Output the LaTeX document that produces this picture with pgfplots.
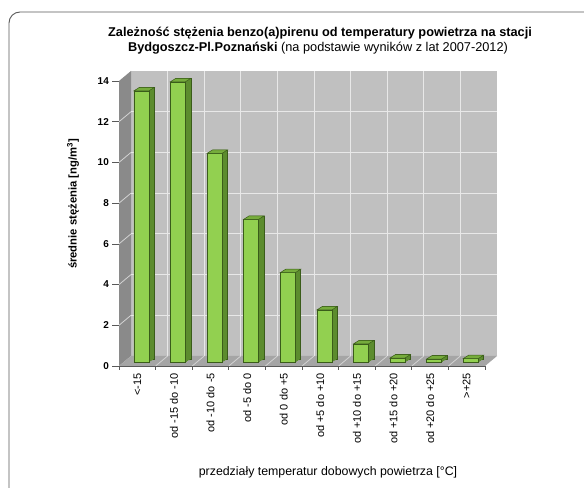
\documentclass[border=0pt]{standalone}
\usepackage{fontspec}
\setmainfont{Liberation Sans}
\usepackage{pgfplots}
\pgfplotsset{compat=1.18}
\usepackage{pgfplotstable}

% colours of the 3-D bars and of the chart walls
\definecolor{barfront}{RGB}{146,208,80}
\definecolor{barside}{RGB}{92,140,46}
\definecolor{bartopc}{RGB}{118,172,60}
\definecolor{baredge}{RGB}{58,92,26}
\definecolor{wallback}{RGB}{192,192,192}
\definecolor{wallside}{RGB}{138,138,138}
\definecolor{wallfloor}{RGB}{165,165,165}
\definecolor{gridc}{RGB}{232,232,232}
\definecolor{framec}{RGB}{90,90,90}

% top face of a 3-D bar, placed at the top centre of the front face
\pgfdeclareplotmark{bartop}{%
  \pgfpathmoveto{\pgfpoint{-7.5bp}{0bp}}%
  \pgfpathlineto{\pgfpoint{7.5bp}{0bp}}%
  \pgfpathlineto{\pgfpoint{13bp}{3.5bp}}%
  \pgfpathlineto{\pgfpoint{-2bp}{3.5bp}}%
  \pgfpathclose
  \pgfusepathqfillstroke}

% mean benzo(a)pyrene concentration per temperature class
\pgfplotstableread{
x y
0 13.35
1 13.80
2 10.28
3 7.04
4 4.42
5 2.59
6 0.92
7 0.23
8 0.18
9 0.20
}\bapdata

\begin{document}
\begin{tikzpicture}
\useasboundingbox (0,0) rectangle (584bp,488bp);
\fill[white] (0,0) rectangle (584bp,488bp);
% outer chart frame
\draw[framec, line width=0.9bp, rounded corners=11bp] (9bp,476bp) rectangle (610bp,-20bp);

% walls of the 3-D plot area
\fill[wallback] (131bp,132bp) rectangle (497bp,417bp);
\fill[wallside] (119bp,122bp) -- (119bp,407bp) -- (131bp,417bp) -- (131bp,132bp) -- cycle;
\fill[wallfloor] (119bp,122bp) -- (485bp,122bp) -- (497bp,132bp) -- (131bp,132bp) -- cycle;
\foreach \k in {1,...,6} {
  \draw[gridc, line width=1bp] (131bp,{132bp+\k*40.714bp}) -- (497bp,{132bp+\k*40.714bp});
  \draw[gridc!80!gray, line width=0.8bp] (119bp,{122bp+\k*40.714bp}) -- (131bp,{132bp+\k*40.714bp});
}
\foreach \i in {1,...,9} {
  \draw[gridc, line width=1bp] ({131bp+\i*36.6bp},132bp) -- ({131bp+\i*36.6bp},417bp);
  \draw[gridc!80!gray, line width=0.8bp] ({119bp+\i*36.6bp},122bp) -- ({131bp+\i*36.6bp},132bp);
}
\draw[gray!70!black, line width=0.6bp] (119bp,122bp) -- (485bp,122bp);
% tick marks on the front edges
\foreach \k in {0,...,7}
  \draw[gray!70!black, line width=0.7bp] (112bp,{122bp+\k*40.714bp}) -- (119bp,{122bp+\k*40.714bp});
\foreach \i in {0,...,10}
  \draw[gray!70!black, line width=0.7bp] ({119bp+\i*36.6bp},122bp) -- ({119bp+\i*36.6bp},118bp);

\begin{axis}[
  at={(119bp,122bp)}, anchor=south west,
  scale only axis, width=366bp, height=285bp,
  xmin=-0.5, xmax=9.5, ymin=0, ymax=14,
  clip=false,
  axis line style={draw=none}, tick style={draw=none},
  xtick={0,...,9},
  xticklabels={{<-15},{od -15 do -10},{od -10 do -5},{od -5 do 0},{od 0 do +5},
    {od +5 do +10},{od +10 do +15},{od +15 do +20},{od +20 do +25},{>+25}},
  xticklabel style={yshift=-7bp, rotate=90, anchor=east, inner sep=0pt,
    font=\fontsize{11}{12}\selectfont},
  ytick={0,2,...,14},
  /pgf/number format/assume math mode=true,
  yticklabel style={font=\bfseries\fontsize{10}{11}\selectfont, inner sep=0pt, xshift=-10bp},
]
% side faces: dark extrusion of each bar towards the back
\addplot[ybar, bar width=15bp, bar shift=0pt, fill=barside, draw=baredge, line width=0.5bp,
  xshift=9.5bp, yshift=6.8bp] table[x=x,y=y]{\bapdata};
\addplot[ybar, bar width=15bp, bar shift=0pt, fill=barside, draw=none,
  xshift=8.125bp, yshift=5.925bp] table[x=x,y=y]{\bapdata};
\addplot[ybar, bar width=15bp, bar shift=0pt, fill=barside, draw=none,
  xshift=6.75bp, yshift=5.05bp] table[x=x,y=y]{\bapdata};
\addplot[ybar, bar width=15bp, bar shift=0pt, fill=barside, draw=none,
  xshift=5.375bp, yshift=4.175bp] table[x=x,y=y]{\bapdata};
% front faces
\addplot[ybar, bar width=15bp, bar shift=0pt, fill=barfront, draw=baredge, line width=0.5bp,
  xshift=4bp, yshift=3.3bp] table[x=x,y=y]{\bapdata};
% top faces
\addplot[only marks, mark=bartop, mark options={fill=bartopc, draw=baredge, line width=0.5bp},
  xshift=4bp, yshift=3.3bp] table[x=x,y=y]{\bapdata};
\end{axis}

% titles and axis labels
\node[font=\bfseries\fontsize{12.8}{14}\selectfont] at (320bp,455bp)
  {Zależność stężenia benzo(a)pirenu od temperatury powietrza na stacji};
\node[font=\fontsize{12.8}{14}\selectfont] at (318bp,440bp)
  {\textbf{Bydgoszcz-Pl.Poznański} (na podstawie wyników z lat 2007-2012)};
\node[rotate=90, font=\bfseries\fontsize{11.3}{13}\selectfont] at (73bp,284bp)
  {średnie stężenia [ng/m\textsuperscript{3}]};
\node[font=\fontsize{12.4}{14}\selectfont] at (328bp,16bp)
  {przedziały temperatur dobowych powietrza [°C]};
\end{tikzpicture}
\end{document}
